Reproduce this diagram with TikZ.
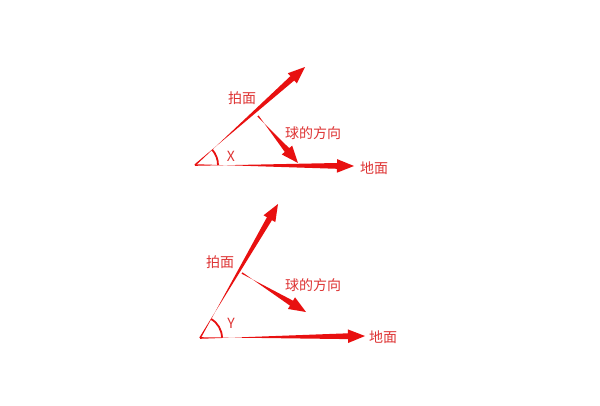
\documentclass[tikz,border=0pt]{standalone}
\usepackage{fontspec}
\setmainfont{Noto Sans CJK SC}
\usetikzlibrary{calc}
\definecolor{arrowred}{RGB}{232,16,16}
\definecolor{textred}{RGB}{222,52,52}
% tapered arrow: thin at the start, wide at the head
\newcommand\taperarrow[2]{%
  \coordinate (hb) at ($(#2)!17pt!(#1)$);
  \fill[arrowred] ($(#1)!0.8pt!90:(#2)$) -- ($(hb)!2.9pt!-90:(#2)$)
    -- ($(hb)!6.8pt!-90:(#2)$) -- (#2) -- ($(hb)!6.8pt!90:(#2)$)
    -- ($(hb)!2.9pt!90:(#2)$) -- ($(#1)!0.8pt!-90:(#2)$) -- cycle;
}
\begin{document}
\begin{tikzpicture}[x=1pt,y=-1pt]
		\tikzset{
			lbl/.style = {text=textred, font=\fontsize{14}{14}\selectfont, inner sep=0pt},
			arcline/.style = {draw=arrowred, line width=1.8pt}
		}
		\useasboundingbox[fill=white] (0,0) rectangle (600,405);
		% upper figure
		\coordinate (o1) at (195,165);
		\coordinate (r1) at (305,67);
		\coordinate (g1) at (354,166);
		\coordinate (b1s) at (258,116);
		\coordinate (b1e) at (298,163);
		\taperarrow{o1}{r1}
		\taperarrow{o1}{g1}
		\taperarrow{b1s}{b1e}
		\draw[arcline] (o1) ++(23,0) arc[start angle=0, end angle=-41.7, radius=23];
		\node[lbl] (racket1) at (242,98) {拍面};
		\node[lbl] (ball1) at (313,133) {球的方向};
		\node[lbl] (ground1) at (374,168) {地面};
		\node[lbl] (angx) at (231,156) {X};
		% lower figure
		\coordinate (o2) at (200,338);
		\coordinate (r2) at (278,204);
		\coordinate (g2) at (365,336);
		\coordinate (b2s) at (242,273);
		\coordinate (b2e) at (306,312);
		\taperarrow{o2}{r2}
		\taperarrow{o2}{g2}
		\taperarrow{b2s}{b2e}
		\draw[arcline] (o2) ++(22,-0.3) arc[start angle=-0.7, end angle=-59.6, radius=22];
		\node[lbl] (racket2) at (220,262) {拍面};
		\node[lbl] (ball2) at (313,285) {球的方向};
		\node[lbl] (ground2) at (383,337) {地面};
		\node[lbl] (angy) at (231,323) {Y};
\end{tikzpicture}
\end{document}
